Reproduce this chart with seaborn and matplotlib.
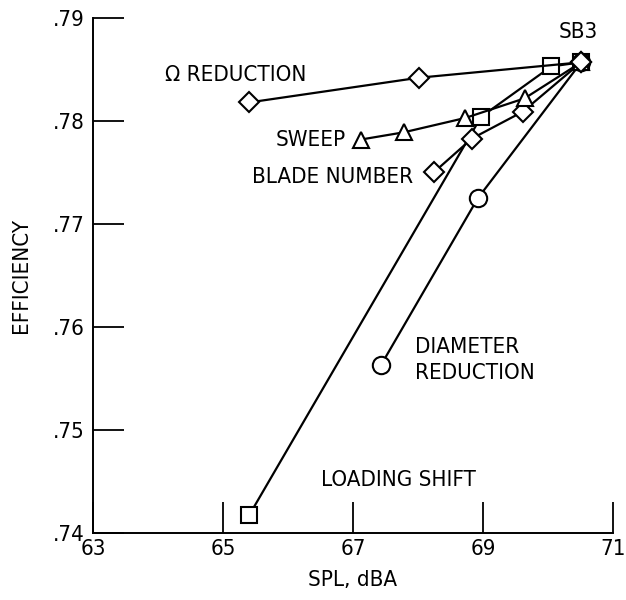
import matplotlib
matplotlib.use("Agg")
import matplotlib.pyplot as plt
import seaborn as sns
import pandas as pd

# ---- data ----
sb3 = (70.51, 0.7857)

omega_x = [65.40, 68.01]
omega_y = [0.7818, 0.7842]

loading_x = [65.40, 68.97, 70.05]
loading_y = [0.7417, 0.7804, 0.7853]

sweep_x = [67.12, 67.78, 68.73, 69.64]
sweep_y = [0.7782, 0.7789, 0.7803, 0.7822]

blade_x = [68.24, 68.83, 69.61]
blade_y = [0.7750, 0.7783, 0.7809]

diam_x = [67.43, 68.92]
diam_y = [0.7563, 0.7725]

x_ticks = [63, 65, 67, 69, 71]
y_ticks = [0.74, 0.75, 0.76, 0.77, 0.78, 0.79]
y_tick_labels = [".74", ".75", ".76", ".77", ".78", ".79"]

sns.set_theme(style="white")
plt.rcParams["font.family"] = ["DejaVu Sans"]
plt.rcParams["font.stretch"] = "condensed"

fig = plt.figure(figsize=(6.26, 6.0), dpi=100)
ax = fig.add_axes([0.1486, 0.1117, 0.8307, 0.8583])

series = [
    (loading_x, loading_y, "s", 11),
    (diam_x, diam_y, "o", 12.5),
    (blade_x, blade_y, "D", 10.5),
    (sweep_x, sweep_y, "^", 12),
    (omega_x, omega_y, "D", 10.5),
]
for xs, ys, m, ms in series:
    df = pd.DataFrame({"x": list(xs) + [sb3[0]], "y": list(ys) + [sb3[1]]})
    sns.lineplot(data=df, x="x", y="y", ax=ax, sort=False, estimator=None,
                 color="black", linewidth=1.6, marker=m, markersize=ms,
                 markerfacecolor="white", markeredgecolor="black",
                 markeredgewidth=1.5, clip_on=False)

ax.set_xlim(63, 71)
ax.set_ylim(0.74, 0.79)
ax.set_xticks(x_ticks)
ax.set_xticklabels([str(t) for t in x_ticks])
ax.set_yticks(y_ticks)
ax.set_yticklabels(y_tick_labels)

for s in ["top", "right"]:
    ax.spines[s].set_visible(False)
for s in ["left", "bottom"]:
    ax.spines[s].set_color("black")
    ax.spines[s].set_linewidth(1.4)

ax.tick_params(axis="both", direction="in", length=22, width=1.3,
               color="black", labelsize=16, labelcolor="black")
ax.tick_params(axis="x", pad=4, bottom=True)
ax.tick_params(axis="y", pad=6, left=True)

ax.set_xlabel("SPL, dBA", fontsize=16, color="black", labelpad=8)
ax.set_ylabel("EFFICIENCY", fontsize=16, color="black", labelpad=16)

tk = dict(fontsize=16, color="black")
ax.text(64.11, 0.7845, "\u03a9 REDUCTION", ha="left", va="center", **tk)
ax.text(66.89, 0.7782, "SWEEP", ha="right", va="center", **tk)
ax.text(67.93, 0.7746, "BLADE NUMBER", ha="right", va="center", **tk)
ax.text(67.96, 0.7581, "DIAMETER", ha="left", va="center", **tk)
ax.text(67.96, 0.7555, "REDUCTION", ha="left", va="center", **tk)
ax.text(66.51, 0.7451, "LOADING SHIFT", ha="left", va="center", **tk)
ax.text(70.47, 0.7886, "SB3", ha="center", va="center", **tk)

fig.savefig("out.png", dpi=100)
